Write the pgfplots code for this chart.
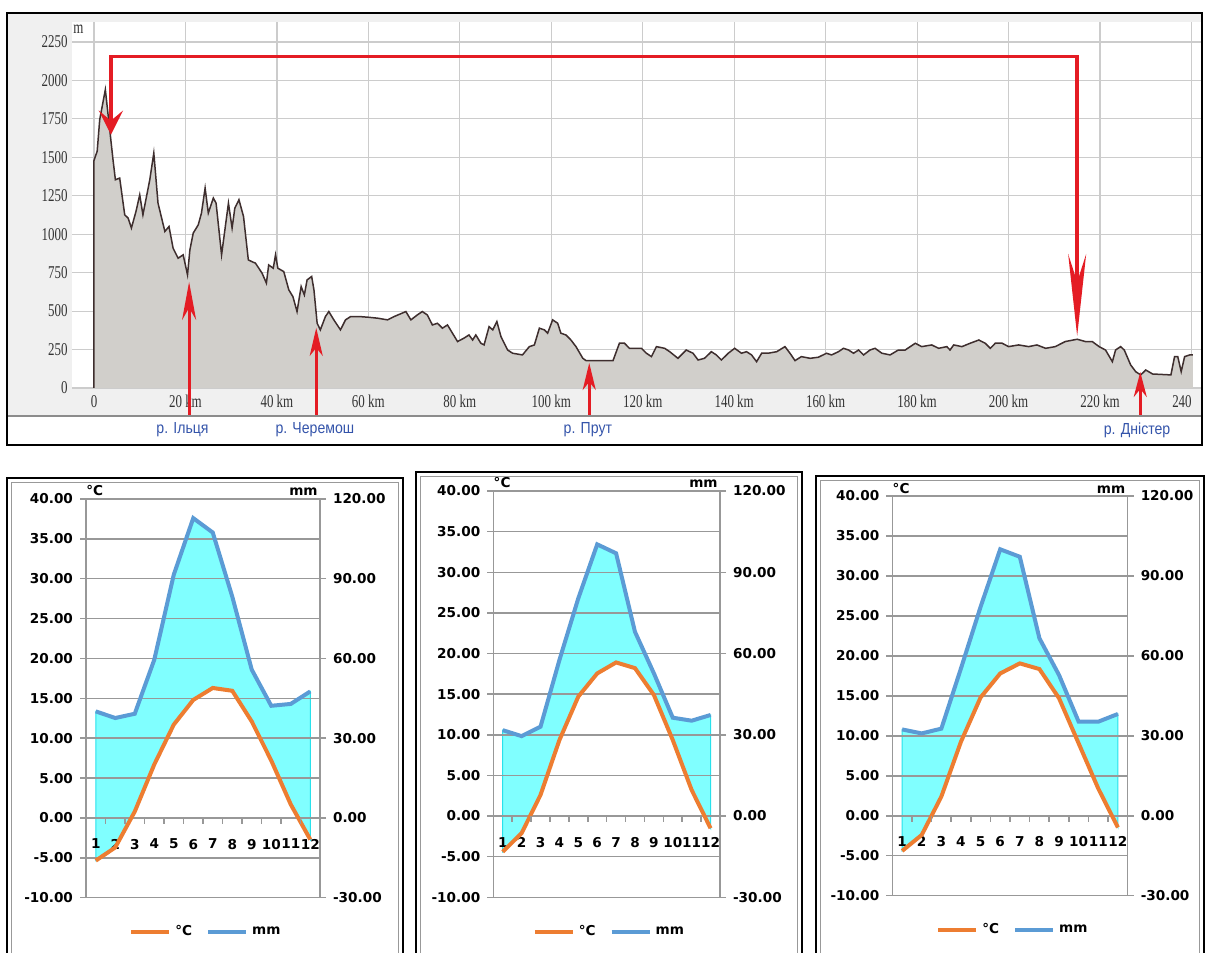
\documentclass[border=0pt]{standalone}
\usepackage{fontspec}
\setmainfont{DejaVu Sans}
\newfontfamily\tserif{Liberation Serif}
\newfontfamily\tsans{Liberation Sans}
\usepackage{graphicx}
\usepackage{pgfplots}
\usepackage{pgfplotstable}
\pgfplotsset{compat=1.18}
\usepgfplotslibrary{fillbetween}
\usetikzlibrary{arrows.meta}

\definecolor{profFill}{RGB}{209,207,203}
\definecolor{profLine}{RGB}{62,46,46}
\definecolor{arrowRed}{RGB}{228,28,36}
\definecolor{riverBlue}{RGB}{52,84,170}
\definecolor{tOrange}{RGB}{237,125,49}
\definecolor{pBlue}{RGB}{91,155,213}
\definecolor{pCyan}{RGB}{128,255,255}
\definecolor{cyanEdge}{RGB}{40,225,235}
\definecolor{xlGrid}{RGB}{152,152,152}
\definecolor{bandGrey}{RGB}{240,240,240}

\newcommand{\sq}[1]{\scalebox{0.72}[1]{#1}}
\newcommand{\nf}[1]{\scalebox{0.88}[1]{#1}}
\tikzset{climfont/.style={font=\bfseries\fontsize{6.8}{8}\selectfont}}

% elevation profile along the route: distance (km), height (m)
\pgfplotstableread{
km m
0 0
0 1480
0.7 1540
1.25 1745
2.48 1940
3.44 1680
4.16 1484
4.68 1354
5.62 1365
6.72 1126
7.45 1105
8.18 1040
9.2 1150
10.0 1256
10.7 1126
12.2 1354
13.08 1528
14.0 1202
15.5 1018
16.4 1050
17.3 909
18.4 844
19.5 866
20.45 736
20.97 898
21.7 1007
22.8 1061
23.5 1137
24.3 1300
25.0 1137
26.1 1235
26.7 1202
27.9 866
29.4 1202
30.2 1040
30.8 1170
31.7 1224
32.7 1115
33.75 833
34.5 822
35.3 812
36.75 747
37.7 682
38.2 800
39.2 779
39.7 866
40.2 779
41.5 757
42.6 638
43.5 594
44.4 497
45.3 660
46.0 605
46.6 703
47.6 725
48.1 638
48.8 421
49.5 378
50.6 464
51.35 497
52.45 443
53.9 378
55.0 443
56.1 464
58.3 464
60.0 460
62.0 454
64.2 443
65.6 464
68.2 497
69.3 443
70.7 475
71.8 497
72.9 475
74.0 410
75.1 421
76.2 389
77.3 410
78.4 356
79.5 302
80.9 324
82.0 345
82.8 312
83.5 345
84.6 291
85.3 280
86.4 399
87.2 378
88.1 432
89.0 334
90.45 247
91.55 226
93.7 215
95.2 269
96.3 280
97.4 389
98.5 378
99.2 356
100.3 443
101.4 421
102.1 356
103.2 345
104.3 312
105.4 269
106.9 193
107.6 178
113.5 178
114.9 291
116.0 291
117.1 258
119.7 258
120.8 226
121.9 204
123.0 269
124.8 258
125.9 236
127.7 193
129.5 247
131.0 226
132.1 182
133.5 193
135.0 236
136.1 215
137.2 182
138.7 226
140.1 258
141.6 226
142.7 236
143.8 215
144.9 171
146.0 226
147.4 226
149.3 236
151.1 269
152.2 226
153.3 178
154.7 204
156.6 193
158.4 200
160.2 226
161.3 215
162.8 236
163.9 258
165.0 247
166.1 226
167.2 247
168.3 215
169.7 247
170.8 258
172.3 226
174.1 215
175.9 247
177.4 247
179.6 291
181.0 269
183.2 280
184.7 258
186.5 269
187.2 247
188.0 280
189.8 269
191.6 291
193.5 312
194.9 291
196.0 258
197.1 291
198.6 291
200.0 269
202.2 280
204.4 269
206.2 280
208.1 258
210.2 269
212.4 302
215.0 317
216.8 302
218.3 302
219.8 269
221.2 247
222.7 171
223.4 247
224.5 269
225.3 247
226.7 150
227.8 106
228.9 85
230.0 117
231.5 91
235.5 85
236.3 204
237.0 204
237.75 106
238.5 204
239.6 215
240.3 215
}\profile

% monthly climate: mean temperature (deg C) and precipitation (mm)
\pgfplotstableread{
month t mm
1 -5.35 40.1
2 -3.7 37.6
3 0.8 39.2
4 6.7 59.5
5 11.7 91.5
6 14.8 112.8
7 16.3 107.4
8 15.95 83.3
9 12.1 55.8
10 7.2 42.2
11 1.7 42.9
12 -2.7 47.6
}\climA

\pgfplotstableread{
month t mm
1 -4.4 31.7
2 -2.1 29.5
3 2.6 33.0
4 9.35 57.6
5 14.7 80.4
6 17.55 100.3
7 18.9 97.0
8 18.2 68.0
9 14.9 52.7
10 9.35 36.3
11 3.2 35.2
12 -1.5 37.3
}\climB

\pgfplotstableread{
month t mm
1 -4.4 32.4
2 -2.4 30.9
3 2.4 32.7
4 9.26 55.3
5 14.8 78.4
6 17.8 100.0
7 19.06 97.2
8 18.35 66.6
9 14.7 52.8
10 9.05 35.3
11 3.4 35.3
12 -1.46 38.2
}\climC

\pgfplotsset{
  layers/climlayers/.define layer set={axis background,axis grid,axis ticks,axis lines,pre main,main,axis tick labels,axis descriptions,axis foreground}{},
  climbase/.style={
    scale only axis, anchor=south west,
    xmin=0.5, xmax=12.5, enlargelimits=false,
    major tick length=3pt,
    tick style={draw=xlGrid, line width=0.75pt},
    ticklabel style={climfont},
    /pgf/number format/.cd, fixed, fixed zerofill, precision=2, assume math mode=true,
  },
  climleft/.style={
    climbase, set layers=climlayers, clip=false,
    ymin=-10, ymax=40,
    axis y line=left, axis x line=middle,
    axis line style={-, draw=xlGrid, line width=0.75pt},
    tick align=outside,
    hide obscured x ticks=false,
    ytick={-10,-5,...,40},
    ymajorgrids, grid style={draw=xlGrid, line width=0.75pt},
    xtick={0.5,1.5,...,12.5}, xticklabels={1,2,3,4,5,6,7,8,9,10,11,12},
    x tick label as interval,
    xtick style={draw=none},
    xticklabel style={yshift=-4pt},
    % month separators hanging below the zero line
    extra description/.code={%
      \foreach \k in {1.5,2.5,...,11.5}
        \draw[xlGrid, line width=0.75pt] (axis cs:\k,0) -- ++(0pt,-3pt);
    },
    legend style={at={(0.517,-0.086)}, anchor=center, draw=none, fill=none,
      legend columns=2, climfont, inner sep=0pt,
      /tikz/every even column/.append style={column sep=5pt}},
    legend image code/.code={\draw[##1] (0pt,0pt) -- (19pt,0pt);},
  },
  climright/.style={
    climbase,
    ymin=-30, ymax=120,
    axis y line*=right, axis x line=none,
    axis line style={-, draw=xlGrid, line width=0.75pt},
    tick align=outside,
    ytick={-30,0,...,120},
  },
}

\newcommand{\climchart}[4]{%
  \begin{axis}[climleft, at={(#2)}, width=#3, height=#4]
    \addplot[name path=tp, draw=none, forget plot] table[x=month, y=t] {#1};
    \addplot[name path=pp, draw=none, forget plot] table[x=month, y expr=\thisrow{mm}/3] {#1};
    \addplot[fill=pCyan, draw=cyanEdge, line width=0.5pt, forget plot] fill between[of=pp and tp];
    \addplot[tOrange, line width=2pt] table[x=month, y=t] {#1};
    \addlegendentry{°C}
    \addplot[pBlue, line width=2pt] table[x=month, y expr=\thisrow{mm}/3] {#1};
    \addlegendentry{mm}
    \node[anchor=base west, inner sep=0pt, climfont, yshift=1.5pt] at (rel axis cs:0,1) {°C};
    \node[anchor=base east, inner sep=0pt, climfont, yshift=1.5pt, xshift=-1pt] at (rel axis cs:1,1) {mm};
  \end{axis}
  \begin{axis}[climright, at={(#2)}, width=#3, height=#4]
    \addplot[draw=none] coordinates {(1,0)};
  \end{axis}%
}

\begin{document}
\begin{tikzpicture}

% ---------- elevation profile ----------
\fill[bandGrey] (3.5pt,470pt) rectangle (601pt,268.5pt);
\begin{axis}[
  at={(36pt,282.5pt)}, anchor=south west, scale only axis,
  width=565pt, height=183pt,
  xmin=-4.81, xmax=242.3, ymin=0, ymax=2380,
  clip=false,
  axis line style={draw=none},
  axis background/.style={fill=white},
  xtick={0,20,...,240},
  xticklabels={\sq{0},\sq{20 km},\sq{40 km},\sq{60 km},\sq{80 km},\sq{100 km},\sq{120 km},\sq{140 km},\sq{160 km},\sq{180 km},\sq{200 km},\sq{220 km},\sq{240}\rule{9.5pt}{0pt}},
  ytick={0,250,...,2250},
  yticklabel={\sq{\pgfmathprintnumber{\tick}}},
  /pgf/number format/1000 sep={},
  /pgf/number format/assume math mode=true,
  grid=major, major grid style={draw=black!20, line width=0.6pt},
  tick style={draw=none},
  ticklabel style={font=\tserif\fontsize{9}{10}\selectfont, text=black!80},
  yticklabel style={inner xsep=2pt},
]
  \addplot[fill=profFill, draw=none] table[x=km, y=m] {\profile} \closedcycle;
  \addplot[profLine, line width=0.75pt] table[x=km, y=m] {\profile};

  % route marker
  \draw[arrowRed, line width=1.8pt, line join=miter,
        {Stealth[length=12pt,width=12pt,inset=5pt]}-{Stealth[length=41pt,width=9pt,inset=14pt]}]
    (axis cs:3.7,1647) -- (axis cs:3.7,2155) -- (axis cs:215,2155) -- (axis cs:215,338);

  % river crossings
  \draw[arrowRed, line width=1.4pt, -{Stealth[length=19pt,width=7pt,inset=6pt]}]
    (axis cs:20.8,-189) -- (axis cs:20.8,690);
  \draw[arrowRed, line width=1.4pt, -{Stealth[length=14pt,width=6.5pt,inset=4pt]}]
    (axis cs:48.6,-189) -- (axis cs:48.6,391);
  \draw[arrowRed, line width=1.4pt, -{Stealth[length=13.5pt,width=6.5pt,inset=4pt]}]
    (axis cs:108.3,-189) -- (axis cs:108.3,163);
  \draw[arrowRed, line width=1.4pt, -{Stealth[length=12.5pt,width=6.5pt,inset=4pt]}]
    (axis cs:228.8,-189) -- (axis cs:228.8,104);

  \begin{scope}[every node/.style={text=riverBlue, font=\tsans\fontsize{8}{9}\selectfont}]
    \node at (axis cs:19.35,-273) {\nf{р. Ільця}};
    \node at (axis cs:48.3,-273) {\nf{р. Черемош}};
    \node at (axis cs:108.0,-273) {\nf{р. Прут}};
    \node at (axis cs:228.1,-273) {\nf{р. Дністер}};
  \end{scope}
  \node[font=\tserif\fontsize{9}{10}\selectfont, text=black!80] at (axis cs:-3.4,2335) {\sq{m}};
\end{axis}
\draw[black!45, line width=0.6pt] (3.5pt,268.5pt) -- (601pt,268.5pt);
\draw[black, line width=1.3pt] (3.5pt,470pt) rectangle (601pt,254pt);

% ---------- climate charts ----------
\climchart{\climA}{43pt,27.65pt}{117pt}{199.35pt}
\climchart{\climB}{246.65pt,27.85pt}{113.35pt}{203.15pt}
\climchart{\climC}{446.15pt,28.65pt}{117.7pt}{199.85pt}

\draw[black, line width=1.4pt] (3.5pt,-5pt) rectangle (201.5pt,237.5pt);
\draw[black!40, line width=0.5pt] (5.8pt,-5pt) rectangle (199.2pt,235.2pt);
\draw[black, line width=1.4pt] (208pt,-5pt) rectangle (401pt,240.5pt);
\draw[black!40, line width=0.5pt] (210.3pt,-5pt) rectangle (398.7pt,238.2pt);
\draw[black, line width=1.4pt] (408pt,-5pt) rectangle (602pt,238.5pt);
\draw[black!40, line width=0.5pt] (410.3pt,-5pt) rectangle (599.7pt,236.2pt);

\pgfresetboundingbox
\path[use as bounding box] (0pt,0pt) rectangle (603pt,476.5pt);
\end{tikzpicture}
\end{document}
